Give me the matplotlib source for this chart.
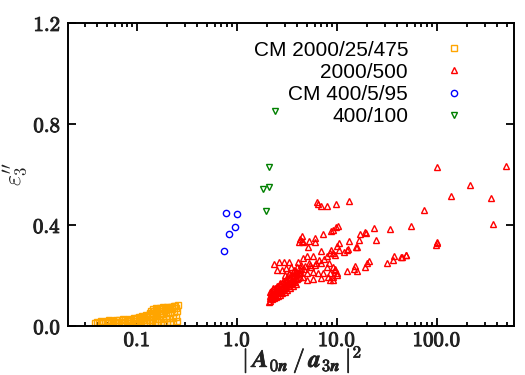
import matplotlib.pyplot as plt
import matplotlib.patheffects as pe
from matplotlib.ticker import LogLocator, NullFormatter

plt.rcParams['mathtext.fontset'] = 'cm'

# CM 2000/25/475 (orange squares)
cm2000_x = [0.038, 0.042, 0.046, 0.050, 0.055, 0.060, 0.066, 0.072, 0.079, 0.086, 0.094, 0.102, 0.110, 0.118, 0.126, 0.134, 0.142, 0.150, 0.160, 0.172, 0.185, 0.200, 0.215, 0.230, 0.250,
            0.040, 0.045, 0.051, 0.057, 0.064, 0.071, 0.079, 0.088, 0.097, 0.106, 0.115, 0.124, 0.133, 0.142, 0.152, 0.165, 0.180, 0.195, 0.210, 0.228, 0.248,
            0.044, 0.050, 0.058, 0.066, 0.075, 0.085, 0.095, 0.105, 0.115, 0.125, 0.135, 0.145, 0.155, 0.168, 0.182, 0.197, 0.213, 0.232, 0.252,
            0.052, 0.062, 0.072, 0.083, 0.094, 0.104, 0.114, 0.124, 0.134, 0.144, 0.154, 0.165, 0.178, 0.192, 0.208, 0.225, 0.245,
            0.100, 0.112, 0.124, 0.136, 0.148, 0.160, 0.175, 0.190, 0.205, 0.222, 0.240,
            0.138, 0.146, 0.155, 0.168, 0.182, 0.198, 0.215, 0.235, 0.255]
cm2000_y = [0.010, 0.010, 0.010, 0.010, 0.011, 0.011, 0.011, 0.011, 0.011, 0.012, 0.012, 0.012, 0.012, 0.013, 0.013, 0.013, 0.014, 0.014, 0.014, 0.015, 0.015, 0.016, 0.016, 0.017, 0.018,
            0.015, 0.015, 0.016, 0.016, 0.017, 0.017, 0.018, 0.019, 0.020, 0.021, 0.022, 0.023, 0.024, 0.025, 0.026, 0.027, 0.028, 0.030, 0.031, 0.033, 0.035,
            0.019, 0.020, 0.021, 0.022, 0.023, 0.025, 0.027, 0.029, 0.032, 0.035, 0.038, 0.041, 0.044, 0.046, 0.048, 0.050, 0.052, 0.055, 0.058,
            0.022, 0.024, 0.026, 0.028, 0.031, 0.034, 0.037, 0.041, 0.046, 0.051, 0.055, 0.058, 0.061, 0.063, 0.066, 0.069, 0.072,
            0.033, 0.038, 0.044, 0.051, 0.059, 0.064, 0.067, 0.070, 0.072, 0.075, 0.078,
            0.060, 0.068, 0.072, 0.073, 0.074, 0.075, 0.077, 0.080, 0.083]

# 2000/500 (red triangles)
r2000_x = [100, 490, 214, 138, 349, 74, 54.6, 366, 100, 101, 99, 49, 44.6,
           6.26, 6.5, 6.9, 8.0, 9.8, 13.2,
           10.3, 9.7, 8.8, 19.0, 17.0, 16.7, 7.3, 6.0, 4.43, 4.3, 4.43, 4.2, 4.6, 5.3, 6.1, 10.6, 13.3, 15.5, 5.1, 23.6, 33.9, 24.4, 19.4, 9.1,
           13.0, 11.7, 10.4, 9.2, 9.5, 8.5, 37.4, 43.7, 49.2, 36.5, 31.6, 20.9, 20.1, 10.1, 8.8, 7.0, 7.9, 5.8, 4.96, 4.6, 4.1, 12.7, 15.7,
           2.65, 2.95, 3.33, 2.34, 2.5, 2.8, 3.1, 3.5, 6.9, 7.9, 19.3, 15.1, 14.7, 15.7, 12.7, 9.2, 9.5, 9.9, 9.5,
           5.0, 5.8, 6.5, 7.3, 8.5, 4.27, 4.6, 5.0, 5.8, 7.0, 8.2, 9.1, 9.1, 9.9, 8.5,
           2.14, 2.2, 2.3, 2.4, 2.5, 2.6, 2.7, 2.8, 2.95, 3.1, 3.25, 3.4, 3.6, 3.8, 3.95, 4.2,
           2.2, 2.35, 2.5, 2.65, 2.8, 3.0, 3.2, 3.4, 3.6, 3.85, 4.1,
           2.1, 2.15, 2.25, 2.35, 2.45, 2.55, 2.7, 2.85, 3.0, 3.2, 3.4, 3.66, 3.9,
           2.12, 2.2, 2.3, 2.42, 2.55, 2.7, 2.88, 3.05, 3.3, 3.55, 3.8,
           3.3, 3.6, 3.9, 4.4, 4.8, 5.4, 6.2,
           2.12, 2.25, 2.4, 2.55, 2.7, 2.9, 3.1, 3.3, 3.5, 3.75, 4.0, 4.3,
           2.3, 2.5, 2.7, 2.9, 3.1, 3.35, 3.6, 3.9, 4.3, 4.7,
           3.0, 3.3, 3.7, 4.0, 4.4, 5.2, 5.5, 6.0, 6.6, 7.5, 8.3]
r2000_y = [0.631, 0.634, 0.558, 0.515, 0.508, 0.459, 0.395, 0.404, 0.327, 0.333, 0.322, 0.281, 0.274,
           0.492, 0.482, 0.475, 0.476, 0.484, 0.496,
           0.396, 0.391, 0.377, 0.373, 0.364, 0.341, 0.363, 0.347, 0.356, 0.345, 0.337, 0.334, 0.333, 0.338, 0.334, 0.327, 0.337, 0.312, 0.312, 0.389, 0.384, 0.342, 0.369, 0.379,
           0.306, 0.293, 0.302, 0.290, 0.281, 0.290, 0.277, 0.272, 0.281, 0.260, 0.251, 0.257, 0.251, 0.318, 0.301, 0.296, 0.277, 0.277, 0.277, 0.268, 0.255, 0.301, 0.312,
           0.252, 0.252, 0.252, 0.244, 0.222, 0.222, 0.228, 0.235, 0.248, 0.235, 0.232, 0.238, 0.224, 0.219, 0.217, 0.232, 0.222, 0.209, 0.224,
           0.211, 0.215, 0.209, 0.211, 0.211, 0.209, 0.195, 0.182, 0.185, 0.189, 0.193, 0.182, 0.193, 0.202, 0.182,
           0.136, 0.140, 0.145, 0.150, 0.155, 0.160, 0.165, 0.170, 0.175, 0.180, 0.186, 0.190, 0.195, 0.200, 0.205, 0.210,
           0.125, 0.130, 0.138, 0.145, 0.150, 0.158, 0.165, 0.172, 0.178, 0.185, 0.190,
           0.096, 0.100, 0.105, 0.110, 0.114, 0.118, 0.124, 0.130, 0.136, 0.142, 0.150, 0.160, 0.168,
           0.110, 0.114, 0.119, 0.124, 0.130, 0.136, 0.143, 0.150, 0.158, 0.166, 0.174,
           0.205, 0.212, 0.218, 0.228, 0.236, 0.243, 0.250,
           0.118, 0.127, 0.135, 0.142, 0.148, 0.156, 0.163, 0.170, 0.176, 0.182, 0.188, 0.195,
           0.150, 0.160, 0.170, 0.178, 0.186, 0.195, 0.202, 0.210, 0.220, 0.226,
           0.200, 0.210, 0.222, 0.232, 0.240, 0.250, 0.232, 0.240, 0.260, 0.265, 0.250]

# CM 400/5/95 (blue circles)
cm400_x = [0.74, 0.77, 0.83, 0.95, 0.99]
cm400_y = [0.298, 0.449, 0.366, 0.393, 0.442]

# 400/100 (green down triangles)
r400_x = [2.40, 2.09, 1.82, 2.09, 1.94]
r400_y = [0.853, 0.631, 0.543, 0.550, 0.455]

xticks = [0.1, 1, 10, 100]
xtick_labels = [r'$\mathbf{0.1}$', r'$\mathbf{1.0}$', r'$\mathbf{10.0}$', r'$\mathbf{100.0}$']
yticks = [0.0, 0.4, 0.8, 1.2]
ytick_labels = [r'$\mathbf{0.0}$', r'$\mathbf{0.4}$', r'$\mathbf{0.8}$', r'$\mathbf{1.2}$']

fig = plt.figure(figsize=(5.25, 3.75), dpi=100)
ax = fig.add_axes([0.1295, 0.1307, 0.8495, 0.808])

kw = dict(linestyle='none', fillstyle='none', markeredgewidth=1.0)
ax.plot(cm2000_x, cm2000_y, marker='s', ms=3.8, color='#ffa500', label='CM 2000/25/475', **kw)
ax.plot(r2000_x, r2000_y, marker='^', ms=4.5, color='#ff0000', label='2000/500', **kw)
ax.plot(cm400_x, cm400_y, marker='o', ms=4.5, color='#0000ff', label='CM 400/5/95', **kw)
ax.plot(r400_x, r400_y, marker='v', ms=4.5, color='#008000', label='400/100', **kw)

ax.set_xscale('log')
ax.set_xlim(0.0204, 590)
ax.set_ylim(0, 1.2)
ax.set_xticks(xticks)
ax.set_xticklabels(xtick_labels, fontsize=15)
ax.xaxis.set_minor_locator(LogLocator(base=10, subs=range(2, 10), numticks=20))
ax.xaxis.set_minor_formatter(NullFormatter())
ax.set_yticks(yticks)
ax.set_yticklabels(ytick_labels, fontsize=15)

# heavier strokes for the bold tick labels
thick = [pe.withStroke(linewidth=0.7, foreground='#222222')]
for t in ax.get_xticklabels() + ax.get_yticklabels():
    t.set_color('#222222')
    t.set_path_effects(thick)

ax.tick_params(which='both', direction='in', top=True, right=True, width=1.3)
ax.tick_params(which='major', length=6, pad=5)
ax.tick_params(axis='x', which='major', pad=3)
ax.tick_params(which='minor', length=3)
for s in ax.spines.values():
    s.set_linewidth(1.4)

xl = ax.set_xlabel(r'$|\,\mathbfit{A}_{\mathbf{0}\mathbfit{n}}\,/\,\mathbfit{a}_{\mathbf{3}\mathbfit{n}}\,|^{\mathbf{2}}$',
                   fontsize=17.5, color='#222222')
xl.set_path_effects([pe.withStroke(linewidth=0.5, foreground='#222222')])
ax.xaxis.set_label_coords(0.525, -0.058)
ax.set_ylabel(r"$\varepsilon_3^{\prime\prime}$", fontsize=17, labelpad=2, color='#222222')

ax.legend(loc='upper right', bbox_to_anchor=(0.889, 0.942), frameon=False, markerfirst=False,
          handlelength=1, handletextpad=1.71, borderpad=0, borderaxespad=0, labelspacing=0.15,
          prop={'family': 'Liberation Sans', 'size': 15})

fig.savefig('out.png', dpi=100)
